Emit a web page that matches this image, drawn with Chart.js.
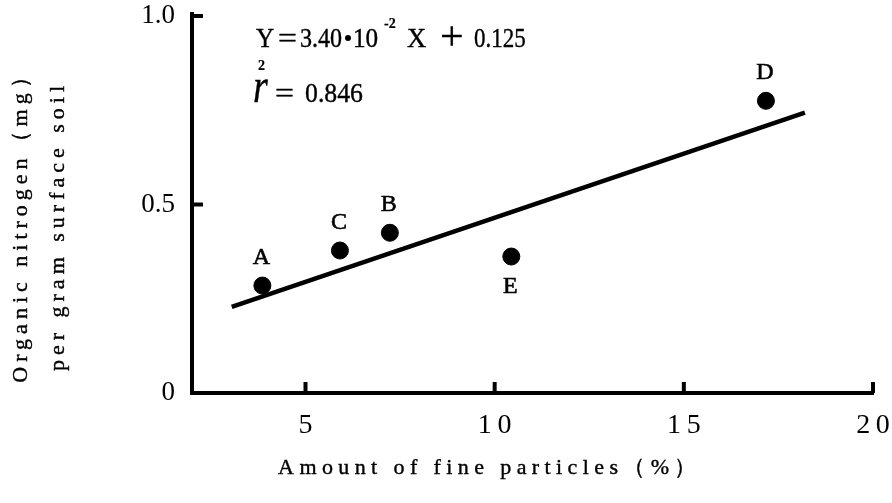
<!DOCTYPE html>
<html lang="en">
<head>
    <meta charset="UTF-8">
    <title>Organic nitrogen vs fine particles</title>
    <script src="https://cdn.jsdelivr.net/npm/chart.js"></script>
    <style>
        body { margin: 0; background: #fff; }
        #wrap { width: 892px; height: 503px; }
    </style>
</head>
<body>
    <div id="wrap">
        <canvas id="nitrogenChart" width="892" height="503"></canvas>
    </div>

    <script>
        // Soil samples
        const sampleNames = ["A", "C", "B", "E", "D"];
        const fineParticles = [3.86, 5.91, 7.23, 10.44, 17.17];   // %
        const organicN = [0.285, 0.378, 0.425, 0.362, 0.775];     // mg per g soil

        // Regression Y = 3.40e-2 X + 0.125, drawn over the sampled range
        const slope = 0.034;
        const intercept = 0.125;
        const fitRange = [3.05, 18.2];

        const xTicks = [5, 10, 15, 20];
        const yTicks = [0, 0.5, 1.0];

        const serif = "Liberation Serif";

        const ctx = document.getElementById("nitrogenChart").getContext("2d");

        // text with a thin outline so it prints a bit heavier; sx/sy squeeze or stretch it
        function ink(c, str, x, y, w, sx, sy) {
            c.save();
            c.translate(x, y);
            c.scale(sx || 1, sy || 1);
            c.lineWidth = w;
            c.fillText(str, 0, 0);
            if (w > 0) c.strokeText(str, 0, 0);
            c.restore();
        }

        // short tick marks pointing into the plot, plus the annotation texts
        const decorations = {
            id: "decorations",
            afterDraw(chart) {
                const c = chart.ctx;
                const xs = chart.scales.x, ys = chart.scales.y;
                const area = chart.chartArea;
                c.save();
                c.strokeStyle = "#000";
                c.fillStyle = "#000";
                c.lineWidth = 4;
                xTicks.forEach(v => {
                    const px = xs.getPixelForValue(v);
                    c.beginPath();
                    c.moveTo(px, area.bottom);
                    c.lineTo(px, area.bottom - 11);
                    c.stroke();
                });
                yTicks.forEach(v => {
                    if (v === 0) return;
                    const py = ys.getPixelForValue(v);
                    c.beginPath();
                    c.moveTo(area.left, py);
                    c.lineTo(area.left + 11, py);
                    c.stroke();
                });
                // axis runs a little past the 1.0 tick
                c.beginPath();
                c.moveTo(area.left, area.top);
                c.lineTo(area.left, area.top - 4);
                c.stroke();

                // point letters
                c.textAlign = "center";
                c.textBaseline = "middle";
                c.font = "24px " + serif;
                const pts = chart.getDatasetMeta(1).data;
                pts.forEach((p, i) => {
                    const below = sampleNames[i] === "E";
                    ink(c, sampleNames[i], p.x - 1, below ? p.y + 30 : p.y - 28, 0.6);
                });

                // regression equation
                c.textAlign = "left";
                c.textBaseline = "alphabetic";
                const base = 47;
                c.font = "28px " + serif;
                ink(c, "Y", 256, base, 0.4, 0.9);
                ink(c, "=", 278, base, 0.4, 1.2);
                ink(c, "3.40", 300, base, 0.4, 0.86);
                c.beginPath();
                c.arc(348, base - 9, 3, 0, Math.PI * 2);
                c.fill();
                ink(c, "10", 353, base, 0.4, 0.9);
                c.font = "bold 14px " + serif;
                ink(c, "-2", 384, base - 19, 0.2);
                c.font = "28px " + serif;
                ink(c, "X", 407, base, 0.4, 0.95);
                c.font = "40px " + serif;
                ink(c, "+", 440, base + 2, 0.3, 1.05);
                c.font = "28px " + serif;
                ink(c, "0.125", 474, base, 0.4, 0.82);

                c.font = "italic 38px " + serif;
                ink(c, "r", 253, 102, 0.3, 1, 1.3);
                c.font = "bold 14px " + serif;
                ink(c, "2", 258, 70, 0.2);
                c.font = "28px " + serif;
                ink(c, "=", 275, 102, 0.4, 1.2);
                ink(c, "0.846", 305, 102, 0.4, 0.92);

                // x axis title, letter spaced
                c.font = "22px " + serif;
                c.letterSpacing = "5.4px";
                c.textAlign = "center";
                ink(c, "Amount of fine particles（%）", 490, 474, 0.4);
                c.restore();
            }
        };

        // rotated y title, drawn as two lines
        const yTitle = {
            id: "yTitle",
            afterDraw(chart) {
                const c = chart.ctx;
                c.save();
                c.fillStyle = "#000";
                c.strokeStyle = "#000";
                c.lineWidth = 0.4;
                c.font = "22px " + serif;
                c.letterSpacing = "5px";
                c.textAlign = "center";
                [["Organic nitrogen（mg）", 27, 222], ["per gram surface soil", 64, 226]].forEach(([t, x, y]) => {
                    c.save();
                    c.translate(x, y);
                    c.rotate(-Math.PI / 2);
                    c.fillText(t, 0, 0);
                    c.strokeText(t, 0, 0);
                    c.restore();
                });
                c.restore();
            }
        };

        new Chart(ctx, {
            type: "scatter",
            data: {
                datasets: [
                    {
                        type: "line",
                        data: fitRange.map(x => ({ x: x, y: slope * x + intercept })),
                        borderColor: "#000",
                        borderWidth: 4.5,
                        pointRadius: 0,
                        fill: false
                    },
                    {
                        data: fineParticles.map((x, i) => ({ x: x, y: organicN[i] })),
                        backgroundColor: "#000",
                        borderColor: "#000",
                        pointRadius: 8.5,
                        pointHoverRadius: 8.5
                    }
                ]
            },
            options: {
                responsive: false,
                animation: false,
                layout: { padding: { top: 16, right: 19, left: 0, bottom: 0 } },
                plugins: {
                    legend: { display: false },
                    tooltip: { enabled: false }
                },
                scales: {
                    x: {
                        type: "linear",
                        min: 2,
                        max: 20,
                        afterBuildTicks: s => { s.ticks = xTicks.map(v => ({ value: v })); },
                        afterFit: s => { s.height = 110; s.paddingLeft = 0; s.paddingRight = 0; },
                        border: { display: true, color: "#000", width: 4 },
                        grid: { display: false, drawTicks: false },
                        ticks: {
                            color: "#000",
                            padding: 16,
                            maxRotation: 0,
                            font: { family: serif, size: 28 },
                            callback: v => String(v).split("").join("\u2009")
                        }
                    },
                    y: {
                        min: 0,
                        max: 1.0,
                        afterBuildTicks: s => { s.ticks = yTicks.map(v => ({ value: v })); },
                        afterFit: s => { s.width = 192; s.paddingTop = 0; s.paddingBottom = 0; },
                        border: { display: true, color: "#000", width: 4 },
                        grid: { display: false, drawTicks: false },
                        ticks: {
                            color: "#000",
                            padding: 17,
                            font: { family: serif, size: 27 },
                            callback: v => v === 0 ? "0" : v.toFixed(1)
                        }
                    }
                }
            },
            plugins: [decorations, yTitle]
        });
    </script>
</body>
</html>
